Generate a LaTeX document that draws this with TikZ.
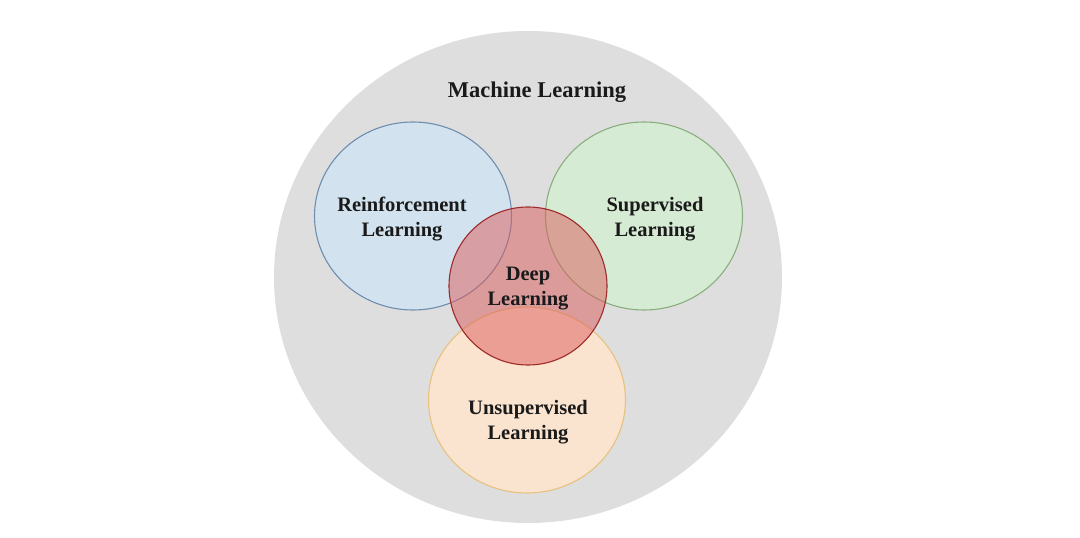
\documentclass[tikz,border=0pt]{standalone}
\usepackage{fontspec}
\setmainfont{Liberation Serif}
\usetikzlibrary{shapes.geometric}
\definecolor{mlgray}{HTML}{DEDEDE}
\definecolor{rlfill}{HTML}{D2E3EF}
\definecolor{rldraw}{HTML}{6F8DAE}
\definecolor{slfill}{HTML}{D6EBD3}
\definecolor{sldraw}{HTML}{8AAE7E}
\definecolor{ulfill}{HTML}{FBE4CF}
\definecolor{uldraw}{HTML}{E6C27E}
\definecolor{dlfill}{HTML}{DC5A5A}
\definecolor{dldraw}{HTML}{9E2B2B}
\definecolor{txt}{HTML}{1A1A1A}
\tikzset{
  setshape/.style={ellipse, inner sep=0pt, line width=1.1pt},
  lbl/.style={font=\bfseries\fontsize{20.5}{25}\selectfont, text=txt, align=center, inner sep=0pt},
}
\begin{document}
\begin{tikzpicture}[x=1pt,y=-1pt]
\useasboundingbox (0,0) rectangle (1080,538);
\fill[white] (0,0) rectangle (1080,538);
\node[setshape, fill=mlgray, minimum width=508pt, minimum height=492pt] (ml) at (528,277) {};
\node[setshape, fill=rlfill, draw=rldraw, minimum width=197pt, minimum height=188pt] (rl) at (413,216) {};
\node[setshape, fill=slfill, draw=sldraw, minimum width=197pt, minimum height=188pt] (sl) at (644,216) {};
\node[setshape, fill=ulfill, draw=uldraw, minimum width=197pt, minimum height=186pt] (ul) at (527,400) {};
\node[setshape, fill=dlfill, fill opacity=0.5, draw=dldraw, minimum width=158pt, minimum height=158pt] (dl) at (528,286) {};
\node[lbl, font=\bfseries\fontsize{22.5}{26}\selectfont] (mlt) at (537,92) {Machine Learning};
\node[lbl] (rlt) at (402,219) {Reinforcement\\Learning};
\node[lbl] (slt) at (655,219) {Supervised\\Learning};
\node[lbl] (dlt) at (528,289) {Deep\\Learning};
\node[lbl] (ult) at (528,422) {Unsupervised\\Learning};
\end{tikzpicture}
\end{document}
